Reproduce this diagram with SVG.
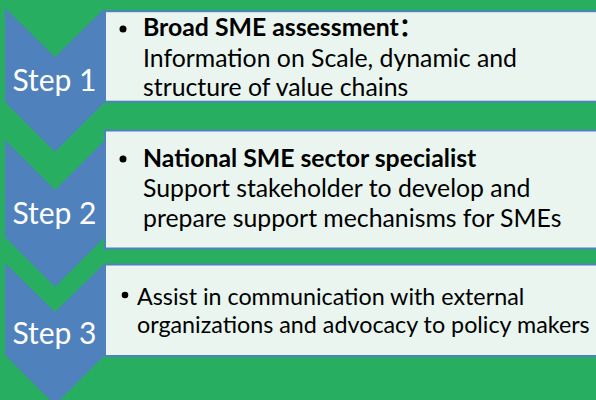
<svg xmlns="http://www.w3.org/2000/svg" width="596" height="400" viewBox="0 0 596 400">
<style>
.chev{fill:#4F81BD;}
.box{fill:#E9F5EE;stroke:#4F81BD;stroke-width:2;}
.step{font-family:Lato,"Liberation Sans",sans-serif;font-size:30px;fill:#FFFFFF;text-anchor:middle;}
.t{font-family:Lato,"Liberation Sans","Noto Sans CJK SC",sans-serif;font-size:24.8px;fill:#000000;}
.s{font-size:23.3px;}
.b{font-weight:bold;}
.bul{fill:#000000;}
</style>
<rect x="0" y="0" width="596" height="400" fill="#27AE60"/>
<g id="step1">
<path class="chev" d="M5,8 L55,57 L105,8 L105,102 L55,152 L5,102 Z"/>
<text class="step" x="54.5" y="91">Step 1</text>
</g>
<g id="step2">
<path class="chev" d="M5,140 L55,190 L105,140 L105,237 L55,287 L5,237 Z"/>
<text class="step" x="54.5" y="224">Step 2</text>
</g>
<g id="step3">
<path class="chev" d="M5,263 L55,312 L105,263 L105,355 L55,405 L5,355 Z"/>
<text class="step" x="54.5" y="344">Step 3</text>
</g>
<g id="box1">
<rect class="box" x="105" y="11.2" width="500" height="90.5"/>
<circle class="bul" cx="123" cy="29" r="3.5"/>
<text class="t b" x="143" y="36">Broad SME assessment：</text>
<text class="t" x="143" y="66.5">Information on Scale, dynamic and</text>
<text class="t" x="143" y="96">structure of value chains</text>
</g>
<g id="box2">
<rect class="box" x="105" y="130.5" width="500" height="118"/>
<circle class="bul" cx="123" cy="159" r="3.5"/>
<text class="t b" x="143" y="166.5">National SME sector specialist</text>
<text class="t" x="143" y="196.5">Support stakeholder to develop and</text>
<text class="t" x="143" y="226.5">prepare support mechanisms for SMEs</text>
</g>
<g id="box3">
<rect class="box" x="105" y="264.5" width="500" height="91.5"/>
<circle class="bul" cx="125" cy="295" r="3.3"/>
<text class="t s" x="137" y="305">Assist in communication with external</text>
<text class="t s" x="137" y="333">organizations and advocacy to policy makers</text>
</g>
</svg>
